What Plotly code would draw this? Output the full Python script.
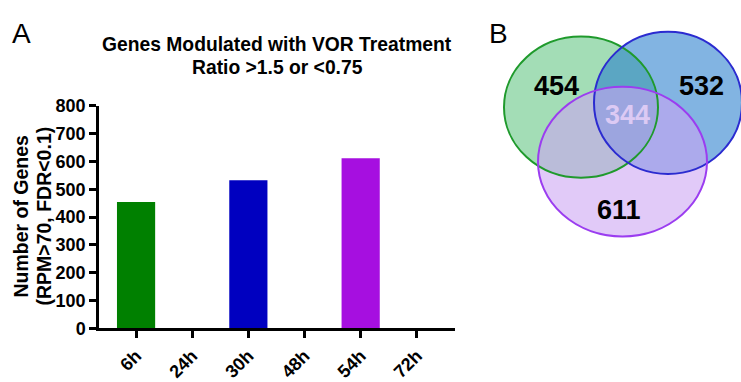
import plotly.graph_objects as go

# Panel A: genes modulated per time point
timepoints = ["6h", "24h", "30h", "48h", "54h", "72h"]
gene_counts = [454, 0, 532, 0, 611, 0]
bar_colors = ["#008000", "#008000", "#0000c0", "#0000c0", "#a60fe0", "#a60fe0"]
y_ticks = [0, 100, 200, 300, 400, 500, 600, 700, 800]

# Panel B: overlap counts
venn_labels = ["454", "532", "611", "344"]

W, H = 741, 382
FONT = "Liberation Sans, Arial, sans-serif"

fig = go.Figure()
fig.add_trace(go.Bar(
    x=timepoints, y=gene_counts, marker=dict(color=bar_colors, line=dict(width=0)),
    width=0.68, xaxis="x", yaxis="y", showlegend=False,
))

# Invisible pixel-space axes for the Venn diagram
fig.add_trace(go.Scatter(x=[480, 741], y=[0, 382], mode="markers",
                         marker=dict(opacity=0), xaxis="x2", yaxis="y2",
                         showlegend=False, hoverinfo="skip"))

tick_font = dict(family=FONT, size=18, color="black", weight="bold")
axis_common = dict(showline=True, linewidth=2.5, linecolor="black", ticks="outside",
                   ticklen=7, tickwidth=2.5, tickcolor="black", showgrid=False,
                   zeroline=False, tickfont=tick_font)

fig.update_layout(
    width=W, height=H, margin=dict(l=0, r=0, t=0, b=0),
    plot_bgcolor="white", paper_bgcolor="white",
    xaxis=dict(domain=[99 / W, 455 / W], range=[-0.66, 5.68], tickangle=-45,
               anchor="y", **axis_common),
    yaxis=dict(domain=[1 - 336 / H, 1 - 101 / H], range=[0, 800], tickvals=y_ticks,
               anchor="x", **axis_common),
    xaxis2=dict(domain=[480 / W, 1], range=[480, 741], visible=False, anchor="y2"),
    yaxis2=dict(domain=[0, 1], range=[382, 0], visible=False, anchor="x2"),
)

# Venn ellipses: (x0, y0, x1, y1, fill, edge)
circles = [
    (504, 28, 658, 177, "rgb(97,197,130)", "#1f9a2c"),
    (594, 23, 742, 173, "rgb(40,125,205)", "#2b2bd0"),
    (538, 81, 707, 239, "rgb(203,163,243)", "#9b3df0"),
]
for x0, y0, x1, y1, fill, edge in circles:
    fig.add_shape(type="circle", xref="x2", yref="y2", x0=x0, y0=y0, x1=x1, y1=y1,
                  fillcolor=fill, opacity=0.58, line=dict(width=0), layer="above")
for x0, y0, x1, y1, fill, edge in circles:
    fig.add_shape(type="circle", xref="x2", yref="y2", x0=x0, y0=y0, x1=x1, y1=y1,
                  line=dict(color=edge, width=2), layer="above")

venn_pos = [(556, 80), (701, 80), (619, 211), (627, 111)]
venn_col = ["black", "black", "black", "#dccaf4"]
for lab, (px, py), col in zip(venn_labels, venn_pos, venn_col):
    fig.add_annotation(x=px, y=py, xref="x2", yref="y2", text=lab, showarrow=False,
                       font=dict(family=FONT, size=27, color=col, weight="bold"))

# Title lines
for txt, py in [("Genes Modulated with VOR Treatment", 36.5), ("Ratio >1.5 or <0.75", 60.5)]:
    fig.add_annotation(x=277 / W, y=1 - py / H, xref="paper", yref="paper", text=txt,
                       showarrow=False, xanchor="center", yanchor="middle",
                       font=dict(family=FONT, size=19.3, color="black", weight="bold"))

# Y axis title lines
for txt, px in [("Number of Genes", 21), ("(RPM>70, FDR<0.1)", 44)]:
    fig.add_annotation(x=px / W, y=1 - 218 / H, xref="paper", yref="paper", text=txt,
                       showarrow=False, textangle=-90, xanchor="center", yanchor="middle",
                       font=dict(family=FONT, size=19.5, color="black", weight="bold"))

# Panel letters
for txt, px in [("A", 21), ("B", 498)]:
    fig.add_annotation(x=px / W, y=1 - 25 / H, xref="paper", yref="paper", text=txt,
                       showarrow=False, xanchor="center", yanchor="middle",
                       font=dict(family=FONT, size=28, color="black"))

fig.write_html("out.html")
